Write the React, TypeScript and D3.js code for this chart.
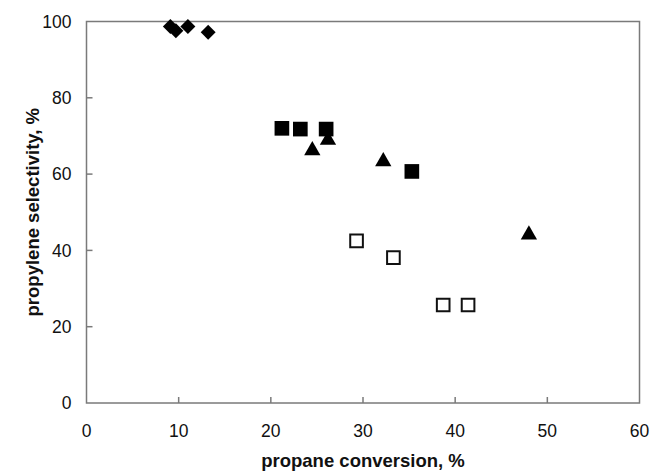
import { useEffect, useRef } from "react";
import * as d3 from "d3";

// series
const diamondX = [9.1, 9.7, 11.0, 13.2];
const diamondY = [98.7, 97.6, 98.7, 97.2];

const filledSquareX = [21.2, 23.2, 26.0, 35.3];
const filledSquareY = [72.0, 71.8, 71.8, 60.7];

const triangleX = [24.5, 26.2, 32.2, 48.0];
const triangleY = [66.2, 68.9, 63.3, 44.1];

const openSquareX = [29.3, 33.3, 38.7, 41.4];
const openSquareY = [42.5, 38.1, 25.7, 25.7];

const xTicks = [0, 10, 20, 30, 40, 50, 60];
const yTicks = [0, 20, 40, 60, 80, 100];

const xTitle = "propane conversion, %";
const yTitle = "propylene selectivity, %";

export default function App() {
  const svgRef = useRef<SVGSVGElement>(null);

  useEffect(() => {
    if (!svgRef.current) return;
    document.body.style.margin = "0";

    const svg = d3.select(svgRef.current);
    svg.selectAll("*").remove();

    const W = 651;
    const H = 473;
    const margin = { top: 21.5, right: 11.5, bottom: 70, left: 86.5 };
    const width = W - margin.left - margin.right;
    const height = H - margin.top - margin.bottom;
    const font = "Arial, 'Liberation Sans', sans-serif";

    const x = d3.scaleLinear().domain([0, 60]).range([0, width]);
    const y = d3.scaleLinear().domain([0, 100]).range([height, 0]);

    const g = svg
      .append("g")
      .attr("transform", `translate(${margin.left},${margin.top})`);

    // frame
    g.append("rect")
      .attr("x", 0)
      .attr("y", 0)
      .attr("width", width)
      .attr("height", height)
      .attr("fill", "none")
      .attr("stroke", "#7a7a7a")
      .attr("stroke-width", 1.5);

    // x axis ticks (inward)
    g.selectAll(".xtick")
      .data(xTicks.slice(1, -1))
      .enter()
      .append("line")
      .attr("x1", (d) => x(d))
      .attr("x2", (d) => x(d))
      .attr("y1", height)
      .attr("y2", height - 6)
      .attr("stroke", "#7a7a7a")
      .attr("stroke-width", 1.5);

    g.selectAll(".xlab")
      .data(xTicks)
      .enter()
      .append("text")
      .attr("x", (d) => x(d))
      .attr("y", height + 34)
      .attr("text-anchor", "middle")
      .attr("font-family", font)
      .attr("font-size", 17.5)
      .attr("fill", "#111")
      .text((d) => d);

    // y axis ticks (inward)
    g.selectAll(".ytick")
      .data(yTicks.slice(1, -1))
      .enter()
      .append("line")
      .attr("x1", 0)
      .attr("x2", 6)
      .attr("y1", (d) => y(d))
      .attr("y2", (d) => y(d))
      .attr("stroke", "#7a7a7a")
      .attr("stroke-width", 1.5);

    g.selectAll(".ylab")
      .data(yTicks)
      .enter()
      .append("text")
      .attr("x", -15)
      .attr("y", (d) => y(d))
      .attr("dy", "0.35em")
      .attr("text-anchor", "end")
      .attr("font-family", font)
      .attr("font-size", 17.5)
      .attr("fill", "#111")
      .text((d) => d);

    // axis titles
    g.append("text")
      .attr("x", width / 2)
      .attr("y", height + 64)
      .attr("text-anchor", "middle")
      .attr("font-family", font)
      .attr("font-size", 18.5)
      .attr("font-weight", "bold")
      .attr("fill", "#111")
      .text(xTitle);

    g.append("text")
      .attr("transform", `translate(${39 - margin.left},${height / 2}) rotate(-90)`)
      .attr("text-anchor", "middle")
      .attr("font-family", font)
      .attr("font-size", 18.5)
      .attr("font-weight", "bold")
      .attr("fill", "#111")
      .text(yTitle);

    // markers
    const diamond = d3.symbol().type(d3.symbolSquare).size(112)();
    const square = d3.symbol().type(d3.symbolSquare).size(215)();
    const openSquare = d3.symbol().type(d3.symbolSquare).size(160)();
    const triangle = d3.symbol().type(d3.symbolTriangle).size(115)();

    g.selectAll(".diamond")
      .data(d3.range(diamondX.length))
      .enter()
      .append("path")
      .attr("d", diamond)
      .attr("transform", (i) => `translate(${x(diamondX[i])},${y(diamondY[i])}) rotate(45)`)
      .attr("fill", "#000");

    g.selectAll(".fsq")
      .data(d3.range(filledSquareX.length))
      .enter()
      .append("path")
      .attr("d", square)
      .attr("transform", (i) => `translate(${x(filledSquareX[i])},${y(filledSquareY[i])})`)
      .attr("fill", "#000");

    g.selectAll(".tri")
      .data(d3.range(triangleX.length))
      .enter()
      .append("path")
      .attr("d", triangle)
      .attr("transform", (i) => `translate(${x(triangleX[i])},${y(triangleY[i])})`)
      .attr("fill", "#000");

    g.selectAll(".osq")
      .data(d3.range(openSquareX.length))
      .enter()
      .append("path")
      .attr("d", openSquare)
      .attr("transform", (i) => `translate(${x(openSquareX[i])},${y(openSquareY[i])})`)
      .attr("fill", "#fff")
      .attr("stroke", "#111")
      .attr("stroke-width", 2);
  }, []);

  return <svg ref={svgRef} width={651} height={473} style={{ display: "block", background: "#fff" }} />;
}
